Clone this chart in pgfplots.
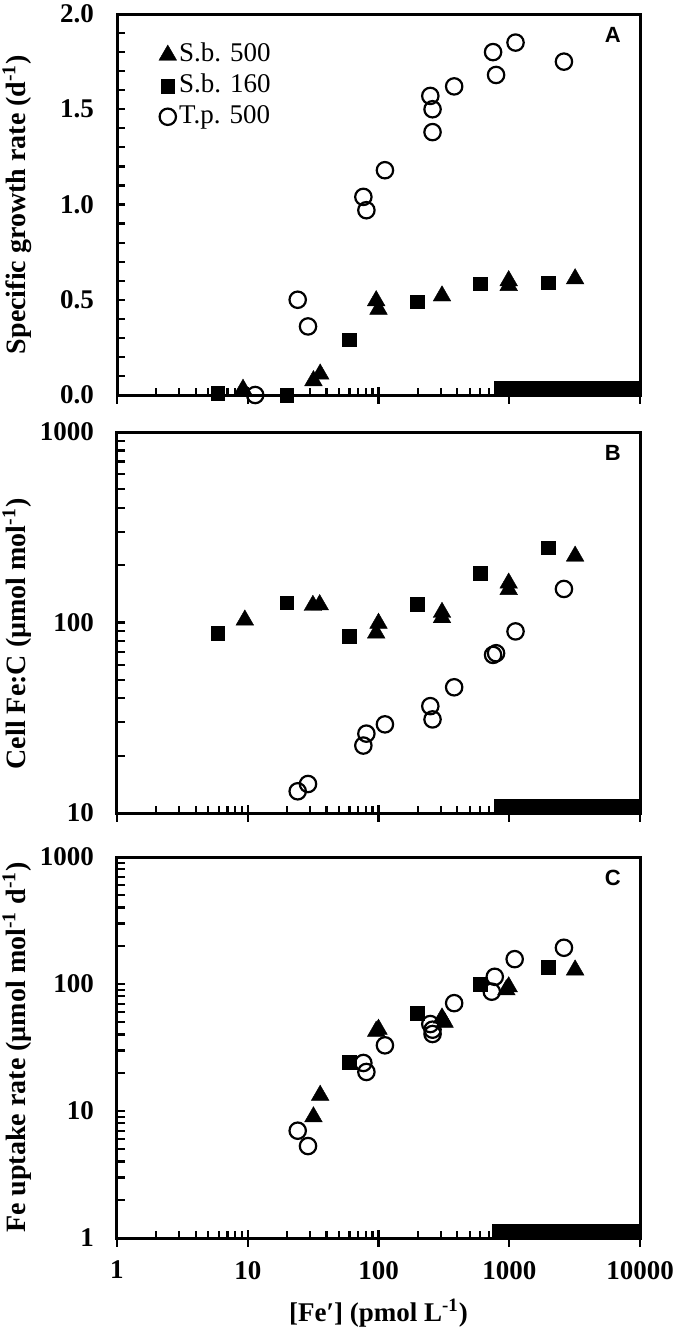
\documentclass[border=0pt]{standalone}
\usepackage{fontspec}
\setmainfont{Liberation Serif}
\newfontfamily\arialfont{Liberation Sans}
\usepackage{pgfplots}
\pgfplotsset{compat=1.18}
\pgfplotsset{
  every axis/.append style={
    width=261.5pt, height=190.5pt, scale only axis,
    xmin=1, xmax=10000,
    xtick={1,10,100,1000,10000},
    minor xtick={2,3,4,5,6,7,8,9,20,30,40,50,60,70,80,90,200,300,400,500,600,700,800,900,2000,3000,4000,5000,6000,7000,8000,9000},
    xtick pos=bottom, ytick pos=left,
    xtick align=inside, ytick align=inside,
    axis line style={line width=1.5pt},
    major tick length=4pt, minor tick length=3.5pt,
    tick style={black, line width=1.1pt},
    minor tick style={black, line width=1.1pt},
    major tick style={black, line width=1.1pt},
    tick label style={font=\fontsize{13.5}{16}\selectfont\bfseries},
    yticklabel style={xshift=-8pt},
    xticklabel style={yshift=-8pt},
    xlabel style={font=\fontsize{13.5}{16}\selectfont\bfseries},
    ylabel style={font=\fontsize{14}{17}\selectfont\bfseries},
    clip mode=individual,
  },
  every axis y label/.style={at={(axis description cs:-0.191,0.5)}, rotate=90, anchor=center},
  every axis x label/.style={at={(axis description cs:0.5,-0.197)}, anchor=center},
  mytri/.style={black, only marks, mark=triangle*, mark size=5.1pt, mark options={fill=black, draw=black, line width=0.2pt}},
  mysq/.style={black, only marks, mark=square*, mark size=3.4pt, mark options={fill=black, draw=black, line width=0.2pt}},
  mycirc/.style={black, only marks, mark=o, mark size=4.1pt, mark options={draw=black, line width=1.1pt}},
}
\begin{document}
\begin{tikzpicture}
\path[use as bounding box] (0,0) rectangle (339.5pt,-667pt);
% ---------------- Panel A
\begin{axis}[xmode=log, at={(58.5pt,-197.5pt)}, anchor=south west,
  ymin=0, ymax=2, ytick={0,0.5,1,1.5,2},
  yticklabels={0.0,0.5,1.0,1.5,2.0},
  minor ytick={0.1,0.2,0.3,0.4,0.6,0.7,0.8,0.9,1.1,1.2,1.3,1.4,1.6,1.7,1.8,1.9},
  xticklabels={},
  ylabel={Specific growth rate (d\textsuperscript{-1})},
  legend cell align=left,
  legend style={draw=none, fill=none, at={(rel axis cs:0.068,0.94)}, anchor=north west,
    font=\fontsize{13.5}{16}\selectfont, row sep=1.5pt,
    nodes={inner sep=1.2pt, text height=9pt, text depth=2.5pt}},
  legend image code/.code={\draw[mark repeat=2,mark phase=2,#1] plot coordinates {(0pt,0pt)(4.5pt,0pt)(9pt,0pt)};},
]
\addplot[mytri] coordinates {(9.2,0.03) (31.8,0.075) (35.8,0.11) (96,0.495) (100,0.45) (306,0.52) (990,0.6) (990,0.575) (3190,0.61)};
\addplot[mysq] coordinates {(5.9,0.01) (19.8,0.0) (59.6,0.29) (197,0.49) (598,0.585) (1990,0.59)};
\addplot[mycirc] coordinates {(11.4,0) (24.1,0.5) (28.9,0.36) (76.6,1.04) (80.8,0.97) (112,1.18) (249,1.57) (259,1.50) (259,1.38) (379,1.62) (752,1.80) (793,1.68) (1117,1.85) (2620,1.75)};
\legend{S.b. 500, S.b. 160, T.p. 500}
\fill[black] ({axis cs:760,0} |- {rel axis cs:0,0}) rectangle (rel axis cs:1,0.037);
\pgfplotsinvokeforeach{1,10,100,1000,10000}{\draw[line width=1.1pt] ({axis cs:#1,0} |- {rel axis cs:0,0}) -- ++(0pt,-4.5pt);}
\pgfplotsinvokeforeach{0.1,0.2,0.3,0.4,0.5,0.6,0.7,0.8,0.9,1.0,1.1,1.2,1.3,1.4,1.5,1.6,1.7,1.8,1.9}{\draw[line width=1.1pt] ({rel axis cs:0,0} |- {axis cs:1,#1}) -- ++(3.8pt,0pt);}
\node[font=\arialfont\bfseries\fontsize{11}{13}\selectfont] at (rel axis cs:0.948,0.946) {A};
\end{axis}
% ---------------- Panel B
\begin{axis}[xmode=log, at={(58.5pt,-406.5pt)}, anchor=south west,
  ymode=log, ymin=10, ymax=1000, ytick={10,100,1000},
  yticklabels={10,100,1000},
  minor ytick={20,30,40,50,60,70,80,90,200,300,400,500,600,700,800,900},
  xticklabels={},
  ylabel={Cell Fe:C (µmol mol\textsuperscript{-1})},
  ylabel style={at={(axis description cs:-0.191,0.47)}},
]
\addplot[mytri] coordinates {(9.5,103) (31.5,123) (35.5,124) (96,88) (100,99) (306,106) (306,113) (990,149) (990,161) (3190,223)};
\addplot[mysq] coordinates {(5.9,88) (19.8,127) (59.6,85) (197,125) (598,181) (1990,247)};
\addplot[mycirc] coordinates {(24.1,13.0) (28.9,14.2) (76.6,22.6) (80.8,26.1) (112,29.2) (249,36.4) (259,31.0) (379,45.7) (752,67.6) (793,69) (1117,89.8) (2620,150)};
\fill[black] ({axis cs:760,10} |- {rel axis cs:0,0}) rectangle (rel axis cs:1,0.037);
\pgfplotsinvokeforeach{1,10,100,1000,10000}{\draw[line width=1.1pt] ({axis cs:#1,10} |- {rel axis cs:0,0}) -- ++(0pt,-4.5pt);}
\pgfplotsinvokeforeach{20,30,40,50,60,70,80,90,100,200,300,400,500,600,700,800,900}{\draw[line width=1.1pt] ({rel axis cs:0,0} |- {axis cs:1,#1}) -- ++(3.8pt,0pt);}
\node[font=\arialfont\bfseries\fontsize{11}{13}\selectfont] at (rel axis cs:0.948,0.946) {B};
\end{axis}
% ---------------- Panel C
\begin{axis}[xmode=log, at={(58.5pt,-619pt)}, anchor=south west,
  ymode=log, ymin=1, ymax=1000, ytick={1,10,100,1000},
  yticklabels={1,10,100,1000},
  minor ytick={2,3,4,5,6,7,8,9,20,30,40,50,60,70,80,90,200,300,400,500,600,700,800,900},
  xticklabels={1,10,100,1000,10000},
  ylabel={Fe uptake rate (µmol mol\textsuperscript{-1} d\textsuperscript{-1})},
  xlabel={[Fe′] (pmol L\textsuperscript{-1})},
]
\addplot[mytri] coordinates {(31.8,9.0) (35.8,13.3) (96,42.4) (100,44) (306,54) (320,50) (950,90) (990,95) (3190,129)};
\addplot[mysq] coordinates {(59.6,24.3) (197,59) (598,100) (1990,135)};
\addplot[mycirc] coordinates {(24.1,7.0) (28.9,5.3) (76.6,23.9) (80.8,20.3) (112,32.9) (249,48.4) (259,43.7) (259,40.4) (379,70.7) (735,87) (775,114) (1100,157) (2620,193)};
\fill[black] ({axis cs:740,1} |- {rel axis cs:0,0}) rectangle (rel axis cs:1,0.037);
\pgfplotsinvokeforeach{1,10,100,1000,10000}{\draw[line width=1.1pt] ({axis cs:#1,1} |- {rel axis cs:0,0}) -- ++(0pt,-4.5pt);}
\pgfplotsinvokeforeach{2,3,4,5,6,7,8,9,10,20,30,40,50,60,70,80,90,100,200,300,400,500,600,700,800,900}{\draw[line width=1.1pt] ({rel axis cs:0,0} |- {axis cs:1,#1}) -- ++(3.8pt,0pt);}
\node[font=\arialfont\bfseries\fontsize{11}{13}\selectfont] at (rel axis cs:0.948,0.946) {C};
\end{axis}
\end{tikzpicture}
\end{document}
